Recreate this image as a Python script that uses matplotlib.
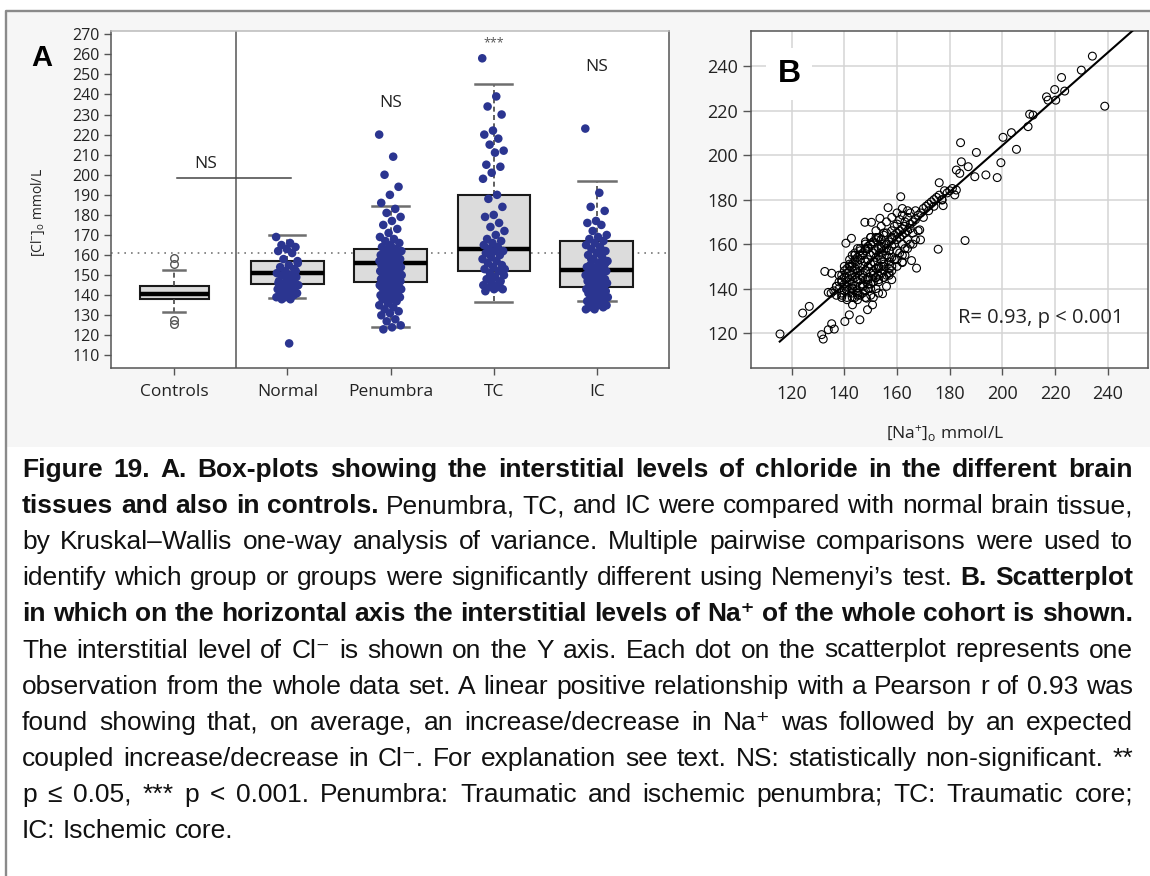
import numpy as np
import matplotlib
matplotlib.use('Agg')
import matplotlib.pyplot as plt
from matplotlib.patches import Rectangle
from matplotlib.lines import Line2D

plt.rcParams['font.family'] = ['Open Sans', 'DejaVu Sans']
plt.rcParams['mathtext.fontset'] = 'custom'
plt.rcParams['mathtext.rm'] = 'Open Sans'
plt.rcParams['mathtext.it'] = 'Open Sans:italic'
plt.rcParams['mathtext.bf'] = 'Open Sans:bold'

# ---------------- data: panel A (box-plots of [Cl-]o) ----------------
groups = ['Controls', 'Normal', 'Penumbra', 'TC', 'IC']
box_med = [140.6, 150.9, 156.2, 162.8, 152.5]
box_q1 = [138.1, 145.6, 146.7, 152.2, 143.9]
box_q3 = [144.6, 157.1, 162.8, 190.1, 166.9]
whis_lo = [131.8, 138.5, 124.1, 136.8, 137.3]
whis_hi = [152.5, 169.9, 184.5, 245.2, 196.9]
controls_out = [158.3, 155.6, 127.8, 125.6]
ref_level = 160.8
sig_text = ['NS', 'NS', '***', 'NS']

normal_pts = [169, 166, 165, 164, 163, 162, 161, 158, 157, 155, 154, 153, 152,
              151, 150, 150, 149, 148, 147, 147, 146, 145, 145, 144, 144, 143,
              143, 142, 142, 141, 141, 140, 140, 139, 139, 138, 138, 152, 148,
              146, 144, 142, 156, 116]
penumbra_pts = [220, 209, 200, 194, 190, 186, 183, 181, 179, 177, 175, 173, 171,
                169, 168, 167, 166, 165, 164, 163, 163, 162, 162, 161, 161, 160,
                160, 159, 159, 158, 158, 158, 157, 157, 157, 156, 156, 156, 155,
                155, 155, 154, 154, 154, 153, 153, 153, 152, 152, 152, 151, 151,
                151, 150, 150, 150, 149, 149, 149, 148, 148, 148, 147, 147, 147,
                146, 146, 146, 145, 145, 145, 144, 144, 144, 143, 143, 143, 142,
                142, 141, 141, 140, 140, 139, 139, 138, 138, 137, 136, 135, 134,
                133, 132, 131, 130, 128, 127, 125, 124, 123]
tc_pts = [258, 239, 234, 230, 222, 220, 218, 215, 212, 211, 205, 204, 201, 198,
          190, 188, 184, 180, 179, 176, 174, 172, 170, 168, 167, 166, 165, 164,
          163, 162, 162, 161, 160, 159, 158, 157, 156, 155, 154, 153, 152, 151,
          150, 149, 148, 147, 146, 145, 144, 144, 143, 143, 142, 146, 149, 153]
ic_pts = [223, 191, 184, 182, 177, 176, 175, 172, 170, 169, 168, 167, 166, 165,
          164, 163, 162, 161, 160, 159, 158, 157, 156, 155, 155, 154, 154, 153,
          153, 152, 152, 151, 151, 150, 150, 149, 149, 148, 148, 147, 147, 146,
          146, 145, 145, 144, 144, 143, 143, 142, 142, 141, 141, 140, 140, 139,
          139, 138, 138, 137, 137, 136, 136, 135, 135, 134, 134, 133, 133, 162,
          158, 156, 152, 148, 144, 140]

# ---------------- data: panel B (Na+ vs Cl-) ----------------
na = [115.6, 124.2, 126.7, 131.4, 132.0, 133.9, 135.2, 136.2, 132.6, 135.2,
      133.9, 140.2, 141.9, 143.1, 145.9, 140.6, 142.7, 147.8, 150.3, 153.5,
      156.6, 148.8, 150.7, 148.4, 154.5, 161.4, 162.0, 167.4, 165.5, 168.6,
      168.9, 175.6, 176.0, 177.5, 177.1, 184.1, 184.4, 182.5, 183.8, 187.0,
      190.1, 189.5, 193.7, 198.0, 199.4, 185.8, 181.9, 182.5, 200.2, 203.4,
      205.3, 209.7, 210.3, 211.6, 216.7, 217.3, 219.8, 220.2, 222.4, 223.6,
      229.9, 234.1, 238.8,
      136, 137, 138, 138, 139, 139, 140, 140, 140, 141, 141, 141, 142, 142, 142,
      143, 143, 143, 143, 144, 144, 144, 144, 145, 145, 145, 145, 146, 146, 146,
      146, 147, 147, 147, 147, 148, 148, 148, 148, 149, 149, 149, 149, 150, 150,
      150, 150, 150, 151, 151, 151, 151, 152, 152, 152, 152, 152, 153, 153, 153,
      153, 154, 154, 154, 154, 155, 155, 155, 155, 156, 156, 156, 157, 157, 157,
      158, 158, 158, 158, 159, 159, 159, 160, 160, 160, 160, 161, 161, 161, 162,
      162, 162, 162, 163, 163, 163, 164, 164, 164, 165, 165, 165, 166, 166, 166,
      167, 167, 168, 168, 169, 170, 170, 171, 172, 172, 173, 174, 174, 175, 176,
      177, 178, 179, 180, 181,
      144, 146, 148, 150, 152, 153, 155, 157, 158, 160, 162, 164, 142, 144, 146,
      148, 150, 152, 154, 156, 158, 160, 162, 164, 141, 139, 137, 135, 143, 145,
      147, 149, 151, 153, 155,
      138, 139, 140, 141, 142, 143, 144, 145, 146, 147, 148, 149, 150, 151, 152,
      153, 154, 155, 156, 157, 139, 141, 143, 145, 147, 149, 151, 153, 155, 157,
      140, 142, 144, 146, 148, 150, 152, 154, 156, 158, 137, 139, 141, 143, 145,
      147, 149, 151, 153, 155,
      155, 157, 158, 160, 162, 156, 153, 151, 158, 163, 165, 167, 163, 150, 148,
      145, 143, 154, 159, 161]
cl = [119.6, 129.0, 132.0, 119.3, 117.3, 121.5, 124.2, 121.8, 147.7, 146.9,
      138.3, 125.2, 128.2, 132.7, 126.0, 160.4, 162.6, 169.8, 169.8, 171.6,
      176.4, 130.5, 132.7, 135.7, 137.7, 181.3, 151.7, 149.2, 152.6, 166.4,
      161.9, 157.7, 187.6, 177.3, 179.8, 205.6, 197.0, 193.3, 191.8, 194.8,
      201.2, 190.3, 191.1, 189.9, 196.6, 161.6, 182.1, 184.3, 208.0, 210.1,
      202.6, 212.8, 218.4, 218.0, 226.2, 224.7, 229.5, 224.7, 234.9, 228.8,
      238.2, 244.5, 222.0,
      139, 141, 143, 140, 144, 138, 142, 145, 139, 143, 147, 141, 144, 140, 148,
      142, 146, 150, 138, 145, 141, 149, 152, 147, 143, 151, 139, 148, 144, 153,
      141, 150, 146, 155, 142, 152, 148, 157, 144, 153, 150, 158, 145, 155, 151,
      160, 147, 142, 156, 152, 161, 148, 157, 154, 162, 149, 145, 158, 155, 163,
      150, 159, 156, 153, 147, 160, 157, 164, 151, 158, 155, 146, 161, 157, 152,
      163, 159, 166, 154, 164, 160, 168, 165, 162, 169, 157, 166, 163, 171, 167,
      164, 160, 173, 168, 165, 170, 166, 172, 162, 169, 167, 174, 170, 165, 160,
      171, 175, 173, 166, 174, 176, 172, 177, 178, 175, 179, 180, 177, 181, 182,
      180, 184, 183, 184, 185,
      136, 137, 139, 137, 140, 143, 145, 149, 150, 153, 155, 158, 151, 155, 157,
      160, 163, 166, 168, 170, 172, 174, 176, 175, 135, 136, 137, 138, 136, 135,
      138, 140, 143, 146, 148,
      146, 137, 148, 136, 150, 140, 153, 138, 155, 141, 158, 144, 160, 146, 163,
      149, 162, 152, 165, 154, 143, 139, 140, 137, 145, 142, 147, 144, 150, 147,
      150, 153, 156, 158, 161, 163, 145, 158, 160, 162, 141, 146, 149, 151, 154,
      156, 159, 161, 163, 165,
      145, 146, 148, 150, 152, 141, 138, 136, 144, 155, 160, 162, 158, 140, 136,
      158, 155, 150, 153, 156]
fit_slope = 1.044
fit_icept = -4.4
r_text = 'R= 0.93, p < 0.001'

# ---------------- caption ----------------
caption = [
    [('Figure 19. A. Box-plots showing the interstitial levels of chloride in the different brain', True)],
    [('tissues and also in controls.', True), ('Penumbra, TC, and IC were compared with normal brain tissue,', False)],
    [('by Kruskal\u2013Wallis one-way analysis of variance. Multiple pairwise comparisons were used to', False)],
    [('identify which group or groups were significantly different using Nemenyi\u2019s test.', False), ('B. Scatterplot', True)],
    [('in which on the horizontal axis the interstitial levels of Na\u207a of the whole cohort is shown.', True)],
    [('The interstitial level of Cl\u207b is shown on the Y axis. Each dot on the scatterplot represents one', False)],
    [('observation from the whole data set. A linear positive relationship with a Pearson r of 0.93 was', False)],
    [('found showing that, on average, an increase/decrease in Na\u207a was followed by an expected', False)],
    [('coupled increase/decrease in Cl\u207b. For explanation see text. NS: statistically non-significant. **', False)],
    [('p \u2264 0.05, *** p < 0.001. Penumbra: Traumatic and ischemic penumbra; TC: Traumatic core;', False)],
    [('IC: Ischemic core.', False)],
]

W, H = 1150, 876
fig = plt.figure(figsize=(W / 100, H / 100), dpi=100, facecolor='white')

# light grey background of the chart region + grey frame
fig.patches.append(Rectangle((6 / W, 1 - 447 / H), 1 - 6 / W, (447 - 12) / H,
                             transform=fig.transFigure, facecolor='#f6f6f6',
                             edgecolor='none', zorder=-10))
fig.lines.append(Line2D([5.5 / W, 5.5 / W, 1], [0, 1 - 11 / H, 1 - 11 / H],
                        transform=fig.transFigure, color='#8a8a8a', lw=1.7))

# ---------------- panel A ----------------
axA = fig.add_axes([111 / W, 1 - 367.5 / H, (669 - 111) / W, (367.5 - 31) / H])
pos = [0.9, 2, 3, 4, 5]
stats = []
for i in range(len(groups)):
    stats.append(dict(med=box_med[i], q1=box_q1[i], q3=box_q3[i],
                      whislo=whis_lo[i], whishi=whis_hi[i], fliers=[]))
stats[0]['fliers'] = controls_out
axA.bxp(stats, positions=pos, widths=[0.67, 0.7, 0.7, 0.7, 0.71],
        capwidths=[0.21, 0.35, 0.36, 0.36, 0.37], patch_artist=True,
        manage_ticks=False,
        boxprops=dict(facecolor='#dcdcdc', edgecolor='#1a1a1a', lw=1.5),
        medianprops=dict(color='black', lw=3.2),
        whiskerprops=dict(color='#444444', lw=1.2, ls=(0, (3, 2))),
        capprops=dict(color='#6e6e6e', lw=1.8),
        flierprops=dict(marker='o', mfc='none', mec='#555555', ms=5.5, mew=1.0))


def jitter(n, half):
    k = np.arange(n)
    return ((k * 0.618034) % 1.0 - 0.5) * 2 * half


for p, pts in zip(pos[1:], [normal_pts, penumbra_pts, tc_pts, ic_pts]):
    pts = np.array(pts, dtype=float)
    axA.scatter(p + jitter(len(pts), 0.11), pts, s=38, color='#2b3590',
                edgecolors='none', zorder=5)

axA.axhline(ref_level, color='#777777', lw=1.2, ls=(0, (1, 3)), zorder=1)
axA.axvline(1.5, color='#555555', lw=1.1, zorder=1)
axA.plot([0.93, 2.03], [198.3, 198.3], color='#444444', lw=1.1, zorder=1)
axA.text(1.21, 205.5, sig_text[0], ha='center', va='center', fontsize=12.5, color='#222222')
axA.text(3, 235.5, sig_text[1], ha='center', va='center', fontsize=12.5, color='#222222')
axA.text(4, 265.5, sig_text[2], ha='center', va='center', fontsize=9, color='#555555')
axA.text(5, 253.5, sig_text[3], ha='center', va='center', fontsize=12.5, color='#222222')

axA.set_xlim(0.288, 5.702)
axA.set_ylim(104, 271.6)
axA.set_yticks(np.arange(110, 271, 10))
axA.set_xticks(pos, groups)
axA.tick_params(axis='y', length=5, width=1, color='#555555', pad=3,
                labelsize=11.5, labelcolor='#222222')
axA.tick_params(axis='x', length=5, width=1, color='#555555', pad=7,
                labelsize=12.5, labelcolor='#222222')
for s in ['left', 'bottom', 'right']:
    axA.spines[s].set_color('#555555')
    axA.spines[s].set_linewidth(1.1)
axA.spines['top'].set_color('#bbbbbb')
axA.spines['top'].set_linewidth(1.1)
fig.text(38 / W, 1 - 213 / H, r'[Cl$^{-}$]$_{\mathrm{o}}$ mmol/L', rotation=90,
         ha='center', va='center', fontsize=10, color='#222222')
fig.text(42 / W, 1 - 58 / H, 'A', ha='center', va='center', fontsize=21,
         fontweight='bold', family=['Liberation Sans', 'DejaVu Sans'])

# ---------------- panel B ----------------
axB = fig.add_axes([751 / W, 1 - 368 / H, (1148 - 751) / W, (368 - 31) / H])
axB.scatter(na, cl, s=32, facecolors='none', edgecolors='black', linewidths=0.8, zorder=3)
xs = np.array([115.5, 256.0])
axB.plot(xs, fit_slope * xs + fit_icept, color='black', lw=1.5, zorder=4)
axB.set_xlim(104.6, 255.2)
axB.set_ylim(104.3, 255.8)
axB.set_xticks(np.arange(120, 241, 20))
axB.set_yticks(np.arange(120, 241, 20))
axB.grid(True, color='#d4d4d4', lw=1.1)
axB.set_axisbelow(True)
axB.tick_params(axis='y', length=5.5, width=1, color='#555555', pad=4,
                labelsize=13, labelcolor='#222222')
axB.tick_params(axis='x', length=5, width=1, color='#555555', pad=7.5,
                labelsize=13, labelcolor='#222222')
for s in axB.spines.values():
    s.set_color('#555555')
    s.set_linewidth(1.1)
axB.text(183.0, 126.9, r_text, ha='left', va='center', fontsize=14.5, color='#222222')
fig.text(945 / W, 1 - 433 / H, r'[Na$^{+}$]$_{\mathrm{o}}$ mmol/L', ha='center',
         va='center', fontsize=12.5, color='#222222')
fig.text(789 / W, 1 - 74 / H, 'B', ha='center', va='center', fontsize=23,
         fontweight='bold', family=['Liberation Sans', 'DejaVu Sans'],
         bbox=dict(facecolor='white', edgecolor='none', pad=8))

# ---------------- justified caption ----------------
cap_font = ['Liberation Sans', 'DejaVu Sans']
left_px, right_px = 22, 1133
base0, step = 477, 36.1

fig.canvas.draw()
rend = fig.canvas.get_renderer()


def text_w(s, bold, fs):
    t = fig.text(0, 0, s, fontsize=fs, family=cap_font,
                 fontweight='bold' if bold else 'normal')
    w = t.get_window_extent(rend).width
    t.remove()
    return w


def line_words(segs, fs):
    out = []
    for txt, bold in segs:
        for w in txt.split(' '):
            out.append((w, bold, text_w(w, bold, fs)))
    return out


# pick the font size so the widest line just fits with plain spaces
fs0 = 16.0
sp0 = text_w('a a', False, fs0) - text_w('aa', False, fs0)
widest = 0
for segs in caption[:-1]:
    ws = line_words(segs, fs0)
    widest = max(widest, sum(w[2] for w in ws) + sp0 * (len(ws) - 1))
cap_fs = fs0 * (right_px - left_px) / widest * 0.995
space_w = text_w('a a', False, cap_fs) - text_w('aa', False, cap_fs)

for li, segs in enumerate(caption):
    words = line_words(segs, cap_fs)
    total = sum(w[2] for w in words)
    last = li == len(caption) - 1
    gap = space_w if last else (right_px - left_px - total) / (len(words) - 1)
    x = left_px
    y = 1 - (base0 + li * step) / H
    for w, bold, ww in words:
        fig.text(x / W, y, w, fontsize=cap_fs, family=cap_font, ha='left',
                 va='baseline', fontweight='bold' if bold else 'normal',
                 color='#111111')
        x += ww + gap

fig.savefig('out.png', dpi=100, facecolor='white')
